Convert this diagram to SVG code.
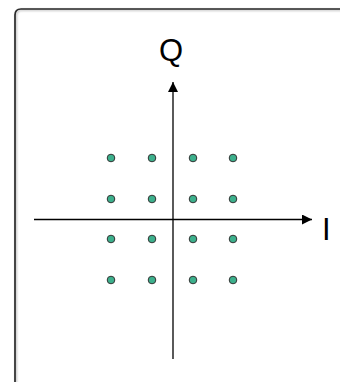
<svg xmlns="http://www.w3.org/2000/svg" width="340" height="382" viewBox="0 0 340 382">
<style>
.lbl{font-family:"Liberation Sans",Arial,sans-serif;font-size:31px;fill:#000}
.dot{fill:#3cb08c;stroke:#333;stroke-width:1}
.axis{stroke:#000;stroke-width:1.3;fill:none}
</style>
<defs>
<filter id="sh" x="-10%" y="-10%" width="120%" height="120%">
<feGaussianBlur in="SourceAlpha" stdDeviation="1"/>
<feOffset dx="1" dy="1" result="b"/>
<feComponentTransfer><feFuncA type="linear" slope="0.3"/></feComponentTransfer>
<feMerge><feMergeNode/><feMergeNode in="SourceGraphic"/></feMerge>
</filter>
<marker id="ah" viewBox="0 0 10 10" refX="10" refY="5" markerWidth="10" markerHeight="10" markerUnits="userSpaceOnUse" orient="auto">
<path d="M0,0 L10,5 L0,10 Z" fill="#000"/>
</marker>
</defs>
<g id="frame"><path d="M15,400 L15,15 Q15,9 21,9 L360,9" fill="none" stroke="#2a2a2a" stroke-width="1.7" filter="url(#sh)"/></g>
<g id="connectors">
<line class="axis" x1="173" y1="359" x2="173" y2="82" marker-end="url(#ah)"/>
<line class="axis" x1="34" y1="219.5" x2="312" y2="219.5" marker-end="url(#ah)"/>
</g>
<g id="label-Q"><text class="lbl" x="171" y="61" text-anchor="middle">Q</text></g>
<g id="label-I"><text class="lbl" x="322" y="240">I</text></g>
<g id="points">
<circle class="dot" cx="111" cy="158" r="3.8"/><circle class="dot" cx="152" cy="158" r="3.8"/><circle class="dot" cx="193" cy="158" r="3.8"/><circle class="dot" cx="233" cy="158" r="3.8"/>
<circle class="dot" cx="111" cy="199" r="3.8"/><circle class="dot" cx="152" cy="199" r="3.8"/><circle class="dot" cx="193" cy="199" r="3.8"/><circle class="dot" cx="233" cy="199" r="3.8"/>
<circle class="dot" cx="111" cy="239" r="3.8"/><circle class="dot" cx="152" cy="239" r="3.8"/><circle class="dot" cx="193" cy="239" r="3.8"/><circle class="dot" cx="233" cy="239" r="3.8"/>
<circle class="dot" cx="111" cy="280" r="3.8"/><circle class="dot" cx="152" cy="280" r="3.8"/><circle class="dot" cx="193" cy="280" r="3.8"/><circle class="dot" cx="233" cy="280" r="3.8"/>
</g>
</svg>
